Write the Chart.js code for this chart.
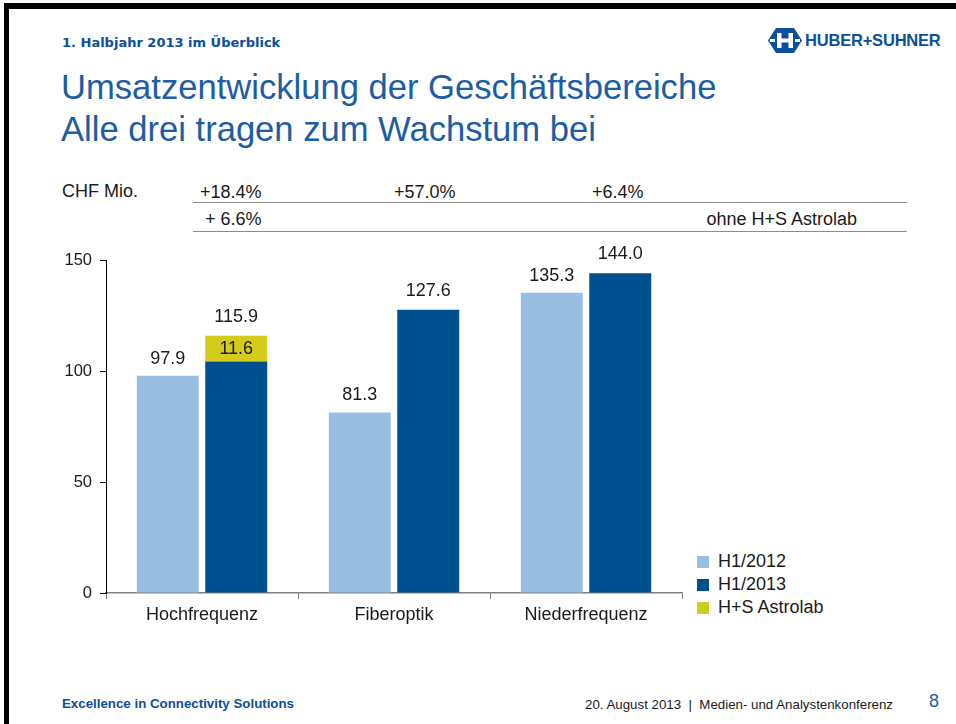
<!DOCTYPE html>
<html lang="de">

<head>
    <meta charset="UTF-8">
    <title>Umsatzentwicklung der Geschäftsbereiche</title>
    <script src="https://cdn.jsdelivr.net/npm/chart.js"></script>
    <style>
        body {
            margin: 0;
            width: 956px;
            height: 724px;
            background: #fff;
            font-family: "Liberation Sans", Arial, sans-serif;
            color: #1a1a1a;
            position: relative;
            overflow: hidden;
        }

        .frame-top {
            position: absolute;
            left: 4px;
            top: 3px;
            width: 952px;
            height: 6px;
            background: #000;
        }

        .frame-left {
            position: absolute;
            left: 4px;
            top: 3px;
            width: 5px;
            height: 721px;
            background: #000;
        }

        .abs {
            position: absolute;
            white-space: nowrap;
        }

        .kicker {
            left: 62px;
            top: 35px;
            font-family: "DejaVu Sans", sans-serif;
            font-size: 13px;
            font-weight: bold;
            color: #0c4f9a;
        }

        .title {
            left: 61px;
            top: 66px;
            font-size: 34.6px;
            line-height: 42px;
            color: #1c5da4;
        }

        .small {
            font-size: 18px;
            color: #1a1a1a;
        }

        .rule {
            position: absolute;
            left: 193px;
            width: 714px;
            height: 1px;
            background: #8c8c8c;
        }

        #chartBox {
            position: absolute;
            left: 40px;
            top: 240px;
            width: 650px;
            height: 400px;
        }

        .legend {
            left: 697px;
            top: 550px;
            font-size: 18px;
            line-height: 23px;
        }

        .legend span.box {
            display: inline-block;
            width: 12px;
            height: 12px;
            margin-right: 9px;
            vertical-align: -1px;
        }

        .footer-left {
            left: 62px;
            top: 696px;
            font-size: 13.3px;
            font-weight: bold;
            color: #0c4f9a;
        }

        .footer-right {
            left: 585px;
            top: 697px;
            font-size: 13.3px;
            color: #1a1a1a;
        }

        .page {
            left: 929px;
            top: 691px;
            font-size: 18px;
            color: #1c5da4;
        }

        .logo {
            left: 768px;
            top: 28px;
        }

        .logo-text {
            left: 805px;
            top: 31px;
            font-size: 16.5px;
            font-weight: bold;
            color: #0c4f9a;
            letter-spacing: -0.2px;
        }
    </style>
</head>

<body>
    <div class="frame-top"></div>
    <div class="frame-left"></div>

    <div class="abs kicker">1. Halbjahr 2013 im Überblick</div>

    <!-- logo -->
    <svg class="abs logo" width="34" height="25" viewBox="0 0 34 25">
        <polygon points="8,0 26,0 34,12.5 26,25 8,25 0,12.5" fill="#0c4f9a" />
        <rect x="9" y="5" width="4.5" height="15" fill="#fff" />
        <rect x="20.5" y="5" width="4.5" height="15" fill="#fff" />
        <rect x="9" y="10.5" width="16" height="4" fill="#fff" />
        <rect x="2" y="11" width="5" height="3" fill="#fff" />
        <rect x="27" y="11" width="5" height="3" fill="#fff" />
    </svg>
    <div class="abs logo-text">HUBER+SUHNER</div>

    <div class="abs title">Umsatzentwicklung der Geschäftsbereiche<br>Alle drei tragen zum Wachstum bei</div>

    <div class="abs small" style="left:62px; top:181px;">CHF Mio.</div>
    <div class="abs small" style="left:200px; top:182px;">+18.4%</div>
    <div class="abs small" style="left:394px; top:182px;">+57.0%</div>
    <div class="abs small" style="left:592px; top:182px;">+6.4%</div>
    <div class="rule" style="top:202px;"></div>
    <div class="abs small" style="left:205px; top:209px;">+ 6.6%</div>
    <div class="abs small" style="right:99px; top:209px;">ohne H+S Astrolab</div>
    <div class="rule" style="top:231px;"></div>

    <div id="chartBox">
        <canvas id="umsatzChart"></canvas>
    </div>

    <div class="abs legend" id="legend"></div>

    <div class="abs footer-left">Excellence in Connectivity Solutions</div>
    <div class="abs footer-right">20. August 2013 &nbsp;|&nbsp; Medien- und Analystenkonferenz</div>
    <div class="abs page">8</div>

    <script>
        // Daten aus der Grafik
        const categories = ['Hochfrequenz', 'Fiberoptik', 'Niederfrequenz'];
        const h12012 = [97.9, 81.3, 135.3];
        const h12013 = [104.3, 127.6, 144.0];   // ohne Astrolab
        const astrolab = [11.6, 0, 0];
        const totals2013 = [115.9, 127.6, 144.0];
        const seriesNames = ['H1/2012', 'H1/2013', 'H+S Astrolab'];
        const yTicks = [0, 50, 100, 150];

        const colors = ['#99bee2', '#00508f', '#d4cc1a'];
        const labelFont = '18px "Liberation Sans", Arial, sans-serif';

        // Legende in HTML
        const legend = document.getElementById('legend');
        seriesNames.forEach((name, i) => {
            const row = document.createElement('div');
            row.innerHTML = `<span class="box" style="background:${colors[i]}"></span>${name}`;
            legend.appendChild(row);
        });

        // Werte über / in den Balken
        const valueLabels = {
            id: 'valueLabels',
            afterDatasetsDraw(chart) {
                const ctx = chart.ctx;
                ctx.save();
                ctx.font = labelFont;
                ctx.fillStyle = '#1a1a1a';
                ctx.textAlign = 'center';
                ctx.textBaseline = 'middle';

                const m0 = chart.getDatasetMeta(0);
                m0.data.forEach((bar, i) => {
                    ctx.fillText(h12012[i].toFixed(1), bar.x, bar.y - 17);
                });

                const m1 = chart.getDatasetMeta(1);
                const m2 = chart.getDatasetMeta(2);
                m1.data.forEach((bar, i) => {
                    let topY = bar.y;
                    if (astrolab[i] > 0) {
                        const seg = m2.data[i];
                        topY = seg.y;
                        ctx.fillText(astrolab[i].toFixed(1), seg.x, (seg.y + seg.base) / 2);
                    }
                    ctx.fillText(totals2013[i].toFixed(1), bar.x, topY - 19);
                });
                ctx.restore();
            }
        };

        const ctx = document.getElementById('umsatzChart').getContext('2d');
        new Chart(ctx, {
            type: 'bar',
            data: {
                labels: categories,
                datasets: [
                    { label: seriesNames[0], data: h12012, backgroundColor: colors[0], stack: 'a' },
                    { label: seriesNames[1], data: h12013, backgroundColor: colors[1], stack: 'b' },
                    { label: seriesNames[2], data: astrolab, backgroundColor: colors[2], stack: 'b' }
                ]
            },
            options: {
                responsive: true,
                maintainAspectRatio: false,
                animation: false,
                layout: { padding: { top: 20, right: 8, left: 0, bottom: 0 } },
                datasets: {
                    bar: { categoryPercentage: 0.713, barPercentage: 0.905 }
                },
                plugins: {
                    legend: { display: false },
                    tooltip: { enabled: false }
                },
                scales: {
                    x: {
                        stacked: true,
                        grid: {
                            offset: true,
                            drawOnChartArea: false,
                            tickLength: 6,
                            color: '#808080'
                        },
                        border: { color: '#808080', width: 1.5 },
                        ticks: {
                            color: '#1a1a1a',
                            font: { family: '"Liberation Sans", Arial, sans-serif', size: 18 },
                            padding: 5
                        },
                        afterFit(scale) { scale.height = 47; }
                    },
                    y: {
                        stacked: true,
                        min: 0,
                        max: 150,
                        afterBuildTicks(scale) {
                            scale.ticks = yTicks.map(v => ({ value: v }));
                        },
                        grid: {
                            drawOnChartArea: false,
                            tickLength: 6,
                            color: '#000'
                        },
                        border: { color: '#000', width: 1 },
                        ticks: {
                            color: '#1a1a1a',
                            font: { family: '"Liberation Sans", Arial, sans-serif', size: 16.5 },
                            padding: 8
                        },
                        afterFit(scale) { scale.width = 66; }
                    }
                }
            },
            plugins: [valueLabels]
        });
    </script>
</body>

</html>
